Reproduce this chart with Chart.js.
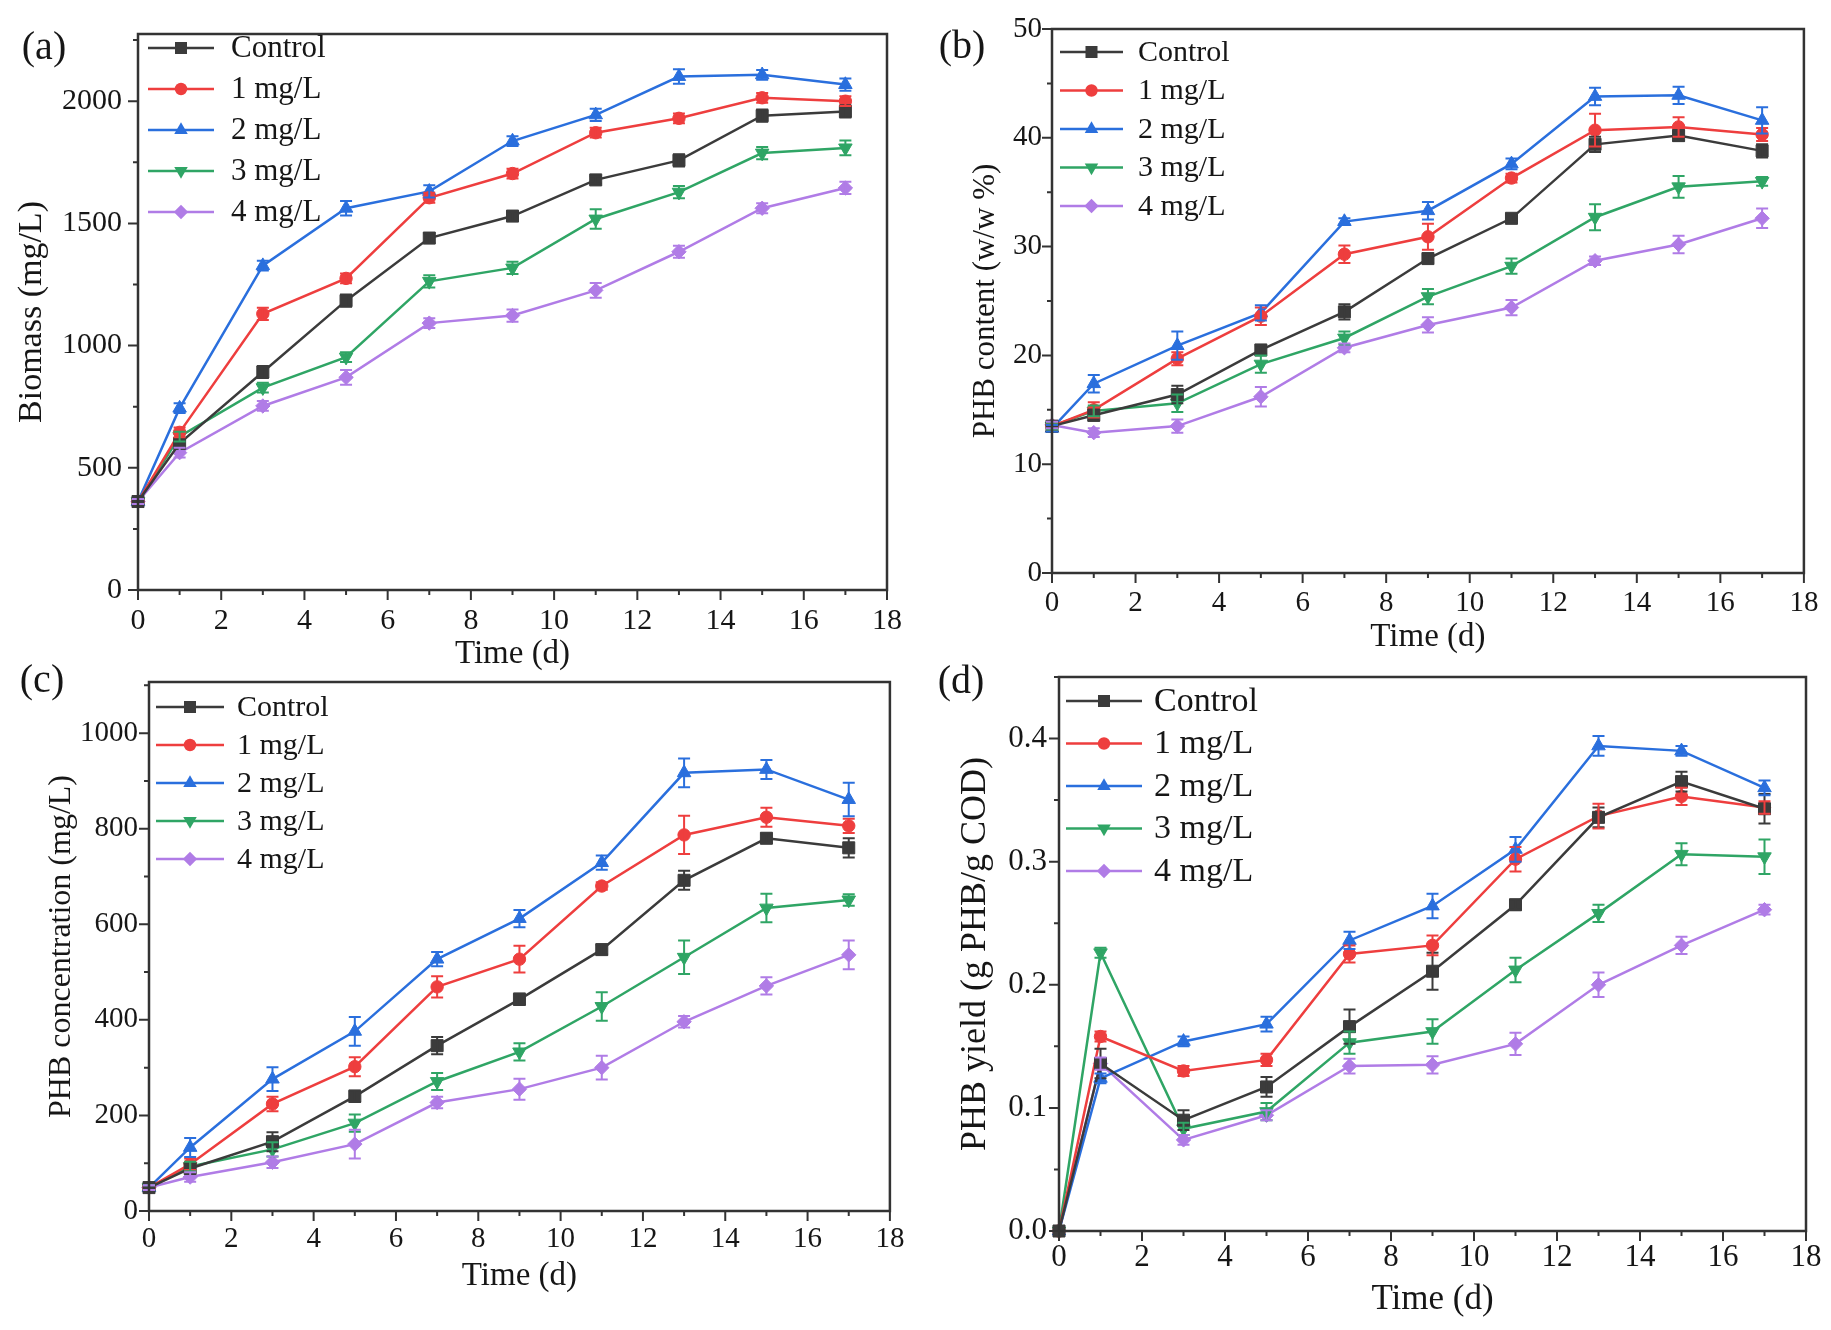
<!DOCTYPE html>
<html>
<head>
<meta charset="utf-8">
<script src="https://cdn.jsdelivr.net/npm/chart.js@4.4.1/dist/chart.umd.min.js"></script>
<style>
html, body { margin: 0; padding: 0; background: #fff; }
body { width: 1831px; height: 1330px; position: relative; overflow: hidden; }
canvas { position: absolute; }
</style>
</head>
<body>
<canvas id="chartA"></canvas>
<canvas id="chartB"></canvas>
<canvas id="chartC"></canvas>
<canvas id="chartD"></canvas>
<script>
// Sampling days and series names
const days = [0, 1, 3, 5, 7, 9, 11, 13, 15, 17];
const seriesNames = ['Control', '1 mg/L', '2 mg/L', '3 mg/L', '4 mg/L'];

// Labelled ticks
const timeTicks = [0, 2, 4, 6, 8, 10, 12, 14, 16, 18];
const biomassTicks = [0, 500, 1000, 1500, 2000];
const contentTicks = [0, 10, 20, 30, 40, 50];
const concTicks = [0, 200, 400, 600, 800, 1000];
const yieldTicks = [0, 0.1, 0.2, 0.3, 0.4];

// (a) Biomass (mg/L)
const biomassControl = [362, 600, 892, 1184, 1440, 1530, 1678, 1758, 1941, 1958];
const biomass1 = [362, 645, 1130, 1275, 1605, 1704, 1871, 1930, 2014, 2000];
const biomass2 = [362, 744, 1327, 1562, 1631, 1837, 1944, 2101, 2108, 2068];
const biomass3 = [362, 628, 828, 953, 1263, 1318, 1518, 1628, 1788, 1809];
const biomass4 = [362, 562, 753, 870, 1092, 1123, 1226, 1384, 1562, 1645];
const biomassErrControl = [10, 15, 25, 25, 20, 20, 15, 25, 25, 25];
const biomassErr1 = [10, 20, 25, 20, 20, 20, 20, 20, 20, 20];
const biomassErr2 = [10, 20, 20, 30, 25, 20, 25, 30, 20, 25];
const biomassErr3 = [10, 20, 20, 20, 25, 25, 40, 25, 25, 30];
const biomassErr4 = [10, 20, 20, 30, 20, 25, 30, 25, 20, 25];

// (b) PHB content (w/w %)
const contentControl = [13.5, 14.5, 16.4, 20.5, 24.0, 28.9, 32.6, 39.4, 40.2, 38.8];
const content1 = [13.5, 15.0, 19.7, 23.6, 29.3, 30.9, 36.3, 40.7, 41.0, 40.3];
const content2 = [13.3, 17.4, 20.9, 23.9, 32.3, 33.3, 37.6, 43.8, 43.9, 41.6];
const content3 = [13.5, 14.9, 15.6, 19.2, 21.6, 25.4, 28.2, 32.7, 35.5, 36.0];
const content4 = [13.6, 12.9, 13.5, 16.2, 20.7, 22.8, 24.4, 28.7, 30.2, 32.6];
const contentErrControl = [0.3, 0.5, 0.8, 0.4, 0.7, 0.4, 0.3, 0.7, 0.5, 0.6];
const contentErr1 = [0.3, 0.7, 0.6, 0.8, 0.8, 1.2, 0.4, 1.5, 0.9, 0.6];
const contentErr2 = [0.3, 0.8, 1.3, 0.7, 0.3, 0.8, 0.5, 0.8, 0.8, 1.2];
const contentErr3 = [0.3, 0.5, 0.8, 0.8, 0.6, 0.7, 0.7, 1.2, 1.0, 0.4];
const contentErr4 = [0.3, 0.4, 0.6, 0.9, 0.4, 0.7, 0.7, 0.4, 0.8, 0.9];

// (c) PHB concentration (mg/L)
const concControl = [49, 89, 145, 240, 346, 443, 547, 692, 780, 760];
const conc1 = [49, 98, 224, 302, 469, 527, 680, 787, 824, 806];
const conc2 = [49, 133, 276, 376, 527, 612, 729, 917, 924, 861];
const conc3 = [49, 93, 129, 184, 271, 333, 428, 531, 634, 651];
const conc4 = [49, 71, 102, 140, 227, 255, 300, 396, 471, 536];
const concErrControl = [5, 8, 20, 12, 18, 12, 10, 20, 10, 20];
const concErr1 = [5, 12, 15, 20, 22, 28, 8, 40, 20, 15];
const concErr2 = [5, 20, 25, 30, 15, 18, 15, 30, 20, 35];
const concErr3 = [5, 10, 15, 18, 18, 18, 30, 35, 30, 12];
const concErr4 = [5, 10, 12, 30, 12, 22, 25, 12, 18, 30];

// (d) PHB yield (g PHB/g COD)
const yieldControl = [0, 0.136, 0.090, 0.117, 0.166, 0.211, 0.265, 0.336, 0.365, 0.343];
const yield1 = [0, 0.158, 0.130, 0.139, 0.225, 0.232, 0.302, 0.337, 0.353, 0.344];
const yield2 = [0, 0.124, 0.154, 0.168, 0.236, 0.264, 0.310, 0.394, 0.390, 0.360];
const yield3 = [0, 0.226, 0.083, 0.097, 0.153, 0.162, 0.212, 0.258, 0.306, 0.304];
const yield4 = [0, 0.136, 0.074, 0.094, 0.134, 0.135, 0.152, 0.200, 0.232, 0.261];
const yieldErrControl = [0, 0.012, 0.008, 0.008, 0.014, 0.015, 0.004, 0.008, 0.008, 0.012];
const yieldErr1 = [0, 0.004, 0.004, 0.005, 0.007, 0.008, 0.010, 0.010, 0.007, 0.005];
const yieldErr2 = [0, 0.004, 0.004, 0.006, 0.007, 0.010, 0.010, 0.008, 0.004, 0.006];
const yieldErr3 = [0, 0.004, 0.005, 0.007, 0.009, 0.010, 0.010, 0.007, 0.009, 0.014];
const yieldErr4 = [0, 0.005, 0.004, 0.004, 0.006, 0.007, 0.009, 0.010, 0.007, 0.004];

// Styling per series
const seriesColors = ['#3b3b3b', '#ee3e3e', '#2a6fdd', '#2fa565', '#b07ce6'];
const pointStyles = ['rect', 'circle', 'triangle', 'triangle', 'rectRot'];
const pointRotations = [0, 0, 0, 180, 0];
const pointSizes = [8.5, 6.2, 7.8, 7.8, 7.2];

const FONT = '"Liberation Serif", "Times New Roman", serif';
const TEXT = '#161616';
const AXIS = '#333';

Chart.defaults.font.family = FONT;
Chart.defaults.color = TEXT;

function drawMarker(ctx, style, rot, r, x, y) {
    ctx.save();
    ctx.translate(x, y);
    ctx.rotate(rot * Math.PI / 180);
    ctx.beginPath();
    if (style === 'circle') {
        ctx.arc(0, 0, r, 0, Math.PI * 2);
    } else if (style === 'rect') {
        const s = r * Math.SQRT1_2;
        ctx.rect(-s, -s, 2 * s, 2 * s);
    } else if (style === 'rectRot') {
        ctx.moveTo(0, -r); ctx.lineTo(r, 0); ctx.lineTo(0, r); ctx.lineTo(-r, 0); ctx.closePath();
    } else {
        ctx.moveTo(0, -r); ctx.lineTo(r * 0.866, r * 0.5); ctx.lineTo(-r * 0.866, r * 0.5); ctx.closePath();
    }
    ctx.fill();
    ctx.restore();
}

// Vertical error bars with caps
const errorBars = {
    id: 'errorBars',
    afterDatasetsDraw(chart) {
        const { ctx, scales: { x, y } } = chart;
        chart.data.datasets.forEach(ds => {
            if (!ds.errors) return;
            ctx.save();
            ctx.strokeStyle = ds.borderColor;
            ctx.lineWidth = 2;
            ds.data.forEach((p, j) => {
                const e = ds.errors[j];
                if (!e) return;
                const px = x.getPixelForValue(p.x);
                const lo = y.getPixelForValue(p.y - e);
                const hi = y.getPixelForValue(p.y + e);
                ctx.beginPath();
                ctx.moveTo(px, lo); ctx.lineTo(px, hi);
                ctx.moveTo(px - 6, lo); ctx.lineTo(px + 6, lo);
                ctx.moveTo(px - 6, hi); ctx.lineTo(px + 6, hi);
                ctx.stroke();
            });
            ctx.restore();
        });
    }
};

// Box frame plus major/minor outward ticks
const axisFrame = {
    id: 'axisFrame',
    afterDraw(chart) {
        const { ctx, chartArea: a, scales: { x, y } } = chart;
        ctx.save();
        ctx.strokeStyle = AXIS;
        ctx.lineWidth = 2.5;
        ctx.strokeRect(a.left, a.top, a.right - a.left, a.bottom - a.top);
        ctx.lineWidth = 2;
        ctx.beginPath();
        x.ticks.forEach(t => {
            const px = x.getPixelForValue(t.value);
            const len = t.label !== '' ? 10 : 5;
            ctx.moveTo(px, a.bottom); ctx.lineTo(px, a.bottom + len);
        });
        y.ticks.forEach(t => {
            const py = y.getPixelForValue(t.value);
            const len = t.label !== '' ? 10 : 5;
            ctx.moveTo(a.left, py); ctx.lineTo(a.left - len, py);
        });
        ctx.stroke();
        ctx.restore();
    }
};

// Legend drawn inside the plot, line with marker like the original
const lineLegend = {
    id: 'lineLegend',
    afterDraw(chart, args, o) {
        const { ctx, chartArea: a } = chart;
        ctx.save();
        ctx.font = `${o.size}px ${FONT}`;
        ctx.textBaseline = 'middle';
        ctx.textAlign = 'left';
        chart.data.datasets.forEach((ds, i) => {
            const y = a.top + o.dy + i * o.gap;
            const x0 = a.left + o.dx;
            const x1 = x0 + o.len;
            ctx.strokeStyle = ds.borderColor;
            ctx.lineWidth = ds.borderWidth;
            ctx.beginPath(); ctx.moveTo(x0, y); ctx.lineTo(x1, y); ctx.stroke();
            ctx.fillStyle = ds.borderColor;
            drawMarker(ctx, ds.pointStyle, ds.pointRotation, ds.pointRadius, (x0 + x1) / 2, y);
            ctx.fillStyle = TEXT;
            ctx.fillText(ds.label, x1 + o.textGap, y + 1);
        });
        ctx.restore();
    }
};

const panelTag = {
    id: 'panelTag',
    afterDraw(chart, args, o) {
        const ctx = chart.ctx;
        ctx.save();
        ctx.font = `${o.size}px ${FONT}`;
        ctx.fillStyle = TEXT;
        ctx.textAlign = 'center';
        ctx.textBaseline = 'middle';
        ctx.fillText(o.text, o.x, o.y);
        ctx.restore();
    }
};

const panels = [
    {
        id: 'chartA', tag: '(a)', tagXY: [44, 48], yTitle: 'Biomass (mg/L)',
        values: [biomassControl, biomass1, biomass2, biomass3, biomass4],
        errors: [biomassErrControl, biomassErr1, biomassErr2, biomassErr3, biomassErr4],
        yMax: 2275, yMinor: 250, yMajors: biomassTicks, fmt: v => String(v),
        box: [0, 0, 915, 690], plot: [138, 33, 890, 590],
        yTitleX: 32, xTitleY: 654, yTickGap: 16, xTickOffset: 31,
        tickSize: 30, yTitleSize: 34, xTitleSize: 33,
        legend: { dx: 10, dy: 14, gap: 41, len: 66, textGap: 17, size: 31 }
    },
    {
        id: 'chartB', tag: '(b)', tagXY: [962, 47], yTitle: 'PHB content (w/w %)',
        values: [contentControl, content1, content2, content3, content4],
        errors: [contentErrControl, contentErr1, contentErr2, contentErr3, contentErr4],
        yMax: 50, yMinor: 5, yMajors: contentTicks, fmt: v => String(v),
        box: [915, 0, 916, 690], plot: [1052, 29, 1806, 573],
        yTitleX: 986, xTitleY: 637, yTickGap: 10, xTickOffset: 30,
        tickSize: 29, yTitleSize: 31, xTitleSize: 33,
        legend: { dx: 8, dy: 23, gap: 38.5, len: 63, textGap: 15, size: 30 }
    },
    {
        id: 'chartC', tag: '(c)', tagXY: [42, 681], yTitle: 'PHB concentration (mg/L)',
        values: [concControl, conc1, conc2, conc3, conc4],
        errors: [concErrControl, concErr1, concErr2, concErr3, concErr4],
        yMax: 1107, yMinor: 100, yMajors: concTicks, fmt: v => String(v),
        box: [0, 640, 915, 690], plot: [149, 682, 891, 1211],
        yTitleX: 62, xTitleY: 1276, yTickGap: 11, xTickOffset: 28,
        tickSize: 29, yTitleSize: 32, xTitleSize: 33,
        legend: { dx: 7, dy: 25, gap: 38, len: 68, textGap: 13, size: 30 }
    },
    {
        id: 'chartD', tag: '(d)', tagXY: [961, 682], yTitle: 'PHB yield (g PHB/g COD)',
        values: [yieldControl, yield1, yield2, yield3, yield4],
        errors: [yieldErrControl, yieldErr1, yieldErr2, yieldErr3, yieldErr4],
        yMax: 0.45, yMinor: 0.05, yMajors: yieldTicks, fmt: v => v.toFixed(1),
        box: [915, 640, 916, 690], plot: [1059, 677, 1806, 1231],
        yTitleX: 976, xTitleY: 1300, yTickGap: 12, xTickOffset: 27,
        tickSize: 31, yTitleSize: 36, xTitleSize: 35,
        legend: { dx: 7, dy: 24, gap: 42.5, len: 76, textGap: 12, size: 34 }
    }
];

// Minor ticks every `step` from 0 to `max`; labels only on the listed majors
function minorTicks(max, step) {
    const out = [];
    const n = Math.floor(max / step + 1e-6);
    for (let i = 0; i <= n; i++) out.push({ value: Math.round(i * step * 1e6) / 1e6 });
    return out;
}
const isListed = (list, v) => list.some(m => Math.abs(m - v) < 1e-9);

panels.forEach(p => {
    const [bx, by, bw, bh] = p.box;
    const [pl, pt, pr, pb] = p.plot;
    const canvas = document.getElementById(p.id);
    canvas.width = bw;
    canvas.height = bh;
    canvas.style.left = bx + 'px';
    canvas.style.top = by + 'px';
    canvas.style.width = bw + 'px';
    canvas.style.height = bh + 'px';

    const yW = pl - bx;
    const xH = by + bh - pb;
    const tickLH = p.tickSize * 1.2;
    const yLH = p.yTitleSize * 1.2;
    const xLH = p.xTitleSize * 1.2;

    const datasets = seriesNames.map((name, i) => ({
        label: name,
        data: days.map((d, j) => ({ x: d, y: p.values[i][j] })),
        errors: p.errors[i],
        borderColor: seriesColors[i],
        backgroundColor: seriesColors[i],
        pointBackgroundColor: seriesColors[i],
        pointBorderColor: seriesColors[i],
        pointBorderWidth: 1,
        pointStyle: pointStyles[i],
        pointRotation: pointRotations[i],
        pointRadius: pointSizes[i],
        borderWidth: 2.5,
        tension: 0,
        clip: false
    }));

    new Chart(canvas, {
        type: 'line',
        data: { datasets },
        plugins: [errorBars, axisFrame, lineLegend, panelTag],
        options: {
            responsive: false,
            animation: false,
            events: [],
            layout: { padding: { left: 0, top: pt - by, right: bx + bw - pr, bottom: 0 } },
            plugins: {
                legend: { display: false },
                tooltip: { enabled: false },
                lineLegend: p.legend,
                panelTag: { text: p.tag, x: p.tagXY[0] - bx, y: p.tagXY[1] - by, size: 40 }
            },
            scales: {
                x: {
                    type: 'linear',
                    min: 0,
                    max: 18,
                    grid: { display: false, drawTicks: false },
                    border: { display: false },
                    afterBuildTicks: s => { s.ticks = minorTicks(18, 1); },
                    ticks: {
                        autoSkip: false,
                        maxRotation: 0,
                        color: TEXT,
                        font: { size: p.tickSize },
                        padding: p.xTickOffset - tickLH / 2,
                        callback: v => (isListed(timeTicks, v) ? String(v) : '')
                    },
                    title: {
                        display: true,
                        text: 'Time (d)',
                        color: TEXT,
                        font: { size: p.xTitleSize },
                        padding: { top: 0, bottom: (by + bh - p.xTitleY) - xLH / 2 }
                    },
                    afterFit: s => { s.height = xH; }
                },
                y: {
                    min: 0,
                    max: p.yMax,
                    grid: { display: false, drawTicks: false },
                    border: { display: false },
                    afterBuildTicks: s => { s.ticks = minorTicks(p.yMax, p.yMinor); },
                    ticks: {
                        autoSkip: false,
                        color: TEXT,
                        font: { size: p.tickSize },
                        padding: p.yTickGap,
                        callback: v => (isListed(p.yMajors, v) ? p.fmt(v) : '')
                    },
                    title: {
                        display: true,
                        text: p.yTitle,
                        color: TEXT,
                        font: { size: p.yTitleSize },
                        padding: { top: (p.yTitleX - bx) - yLH / 2, bottom: 0 }
                    },
                    afterFit: s => { s.width = yW; }
                }
            }
        }
    });
});
</script>
</body>
</html>
